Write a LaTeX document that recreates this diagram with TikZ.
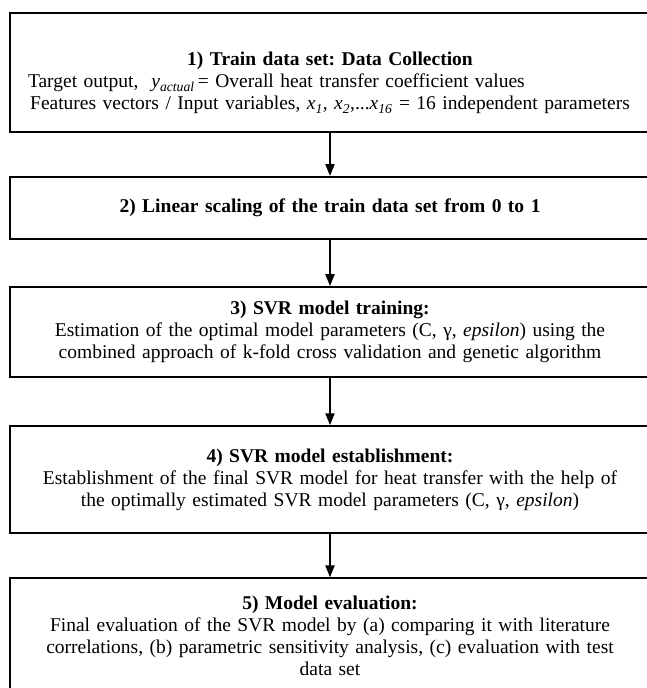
\documentclass[tikz,border=0pt]{standalone}
\usepackage{fontspec}
\setmainfont{Liberation Serif}
\usetikzlibrary{positioning}
\usetikzlibrary{arrows.meta}
\frenchspacing

\begin{document}
\begin{tikzpicture}[ x = 1pt, y = 1pt
                   , node distance = 45pt
                   , font = \fontsize{19.5}{22}\selectfont
                   , line width = 2.1pt
                   , >={Triangle[width=9pt, length=12pt]}
                   , every node/.style = { rectangle
                                        , draw = black
                                        , align = center
                                        , minimum width = 640pt
                                        , text width = 626pt
                                        , inner sep = 0pt }
                   ]
  \useasboundingbox (0,0) rectangle (646,-688);

  %%
  %% Nodes
  %%
  \tikzset{ collect/.style={minimum height=119pt}
          , scaling/.style={minimum height=62pt}
          , training/.style={minimum height=90pt}
          , establish/.style={minimum height=107pt}
          , evaluate/.style={minimum height=140pt}
          }

  \node (collect) [collect] at (330,-72.5) {\rule{0pt}{35pt}\textbf{1) Train data set: Data Collection}\\
    \makebox[604pt][l]{Target output,\ \ \textit{y}\textsubscript{\textit{actual}}\,= Overall heat transfer coefficient values}\\
    Features vectors / Input variables, \textit{x}\textsubscript{\textit{1}}, \textit{x}\textsubscript{\textit{2}},...\textit{x}\textsubscript{\textit{16}} = 16 independent parameters};
  \node (scaling) [scaling, below = 43pt of collect] {\textbf{2) Linear scaling of the train data set from 0 to 1}};
  \node (training) [training, below = 46pt of scaling] {\textbf{3) SVR model training:}\\
    Estimation of the optimal model parameters (C, γ, \textit{epsilon}) using the\\
    combined approach of k-fold cross validation and genetic algorithm};
  \node (establish) [establish, below = 47pt of training] {\textbf{4) SVR model establishment:}\\
    Establishment of the final SVR model for heat transfer with the help of\\
    the optimally estimated SVR model parameters (C, γ, \textit{epsilon})};
  \node (evaluate) [evaluate, below = 43pt of establish] {\textbf{5) Model evaluation:}\\
    Final evaluation of the SVR model by (a) comparing it with literature\\
    correlations, (b) parametric sensitivity analysis, (c) evaluation with test\\
    data set\vspace*{26pt}};

  %%
  %% Steps (arrows)
  %%
  \draw[->] (collect) edge (scaling);
  \draw[->] (scaling) edge (training);
  \draw[->] (training) edge (establish);
  \draw[->] (establish) edge (evaluate);
\end{tikzpicture}
\end{document}
